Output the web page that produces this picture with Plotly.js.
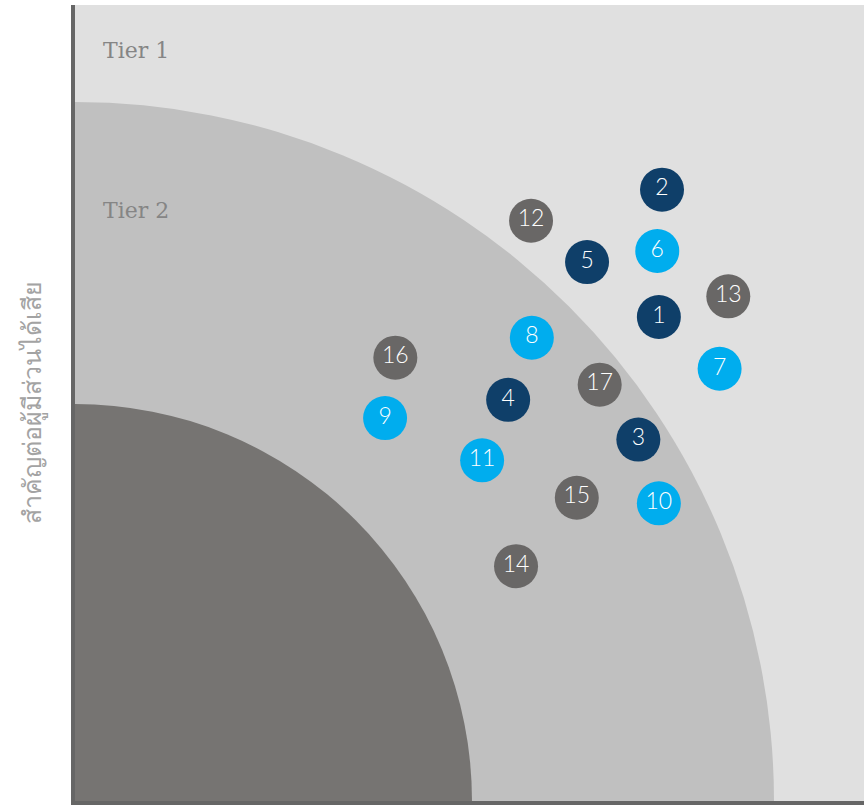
<!DOCTYPE html>
<html><head><meta charset="utf-8">
<script src="https://cdn.plot.ly/plotly-3.0.1.min.js"></script>
<style>html,body{margin:0;padding:0;background:#fff}#chart{width:864px;height:806px}</style>
</head><body><div id="chart"></div>
<script>
// Issue numbers and positions (impact on business x, importance to stakeholders y), 0-10 scale
const labels = ["1","2","3","4","5","6","7","8","9","10","11","12","13","14","15","16","17"];
const xVals = [7.40,7.44,7.14,5.49,6.49,7.38,8.17,5.79,3.93,7.40,5.16,5.78,8.28,5.59,6.36,4.06,6.65];
const yVals = [6.08,7.68,4.54,5.04,6.77,6.91,5.43,5.82,4.81,3.74,4.28,7.29,6.34,2.95,3.81,5.57,5.23];
const groups = ["navy","navy","navy","navy","navy","cyan","cyan","cyan","cyan","cyan","cyan","gray","gray","gray","gray","gray","gray"];
const tierLabels = ["Tier 1","Tier 2"];
const yTitle = "สำคัญต่อผู้มีส่วนได้เสีย";

const colorMap = {navy:"#0f3f69", cyan:"#00adee", gray:"#696766"};

const trace = {
  type: "scatter", mode: "markers+text",
  x: xVals, y: yVals, text: labels,
  textposition: "middle center",
  textfont: {family: "Lato, 'Open Sans', sans-serif", size: 23, color: "#ffffff", weight: 300},
  marker: {size: 44, color: groups.map(g => colorMap[g]), line: {width: 0}},
  hoverinfo: "skip", cliponaxis: false
};

const circle = (r, color) => ({
  type: "circle", xref: "x", yref: "y", xsizemode: "pixel", ysizemode: "pixel",
  xanchor: 0, yanchor: 0, x0: -r, x1: r, y0: -r, y1: r,
  fillcolor: color, line: {width: 0}, layer: "below"
});

const layout = {
  width: 864, height: 806,
  margin: {l: 75, r: 0, t: 5, b: 5},
  paper_bgcolor: "#ffffff", plot_bgcolor: "#e0e0e0",
  showlegend: false,
  xaxis: {range: [0, 10], showgrid: false, zeroline: false, showticklabels: false, ticks: "",
          showline: true, linecolor: "#666666", linewidth: 4, fixedrange: true},
  yaxis: {range: [0, 10], showgrid: false, zeroline: false, showticklabels: false, ticks: "",
          showline: true, linecolor: "#666666", linewidth: 4, fixedrange: true},
  shapes: [circle(699, "#c0c0c0"), circle(397, "#767472")],
  annotations: [
    {text: tierLabels[0], xref: "x", yref: "y", x: 0.33, y: 9.43, xanchor: "left", yanchor: "middle",
     showarrow: false, font: {family: "'DejaVu Serif', 'Liberation Serif', serif", size: 22, color: "#858585"}},
    {text: tierLabels[1], xref: "x", yref: "y", x: 0.33, y: 7.42, xanchor: "left", yanchor: "middle",
     showarrow: false, font: {family: "'DejaVu Serif', 'Liberation Serif', serif", size: 22, color: "#858585"}},
    {text: yTitle, xref: "paper", yref: "paper", x: 0, y: 0.5, xshift: -44, textangle: -90,
     xanchor: "center", yanchor: "middle", showarrow: false,
     font: {family: "'Noto Sans', sans-serif", size: 25, color: "#a3a3a3", weight: 300}}
  ]
};

Plotly.newPlot("chart", [trace], layout, {displayModeBar: false, staticPlot: true});
</script></body></html>
